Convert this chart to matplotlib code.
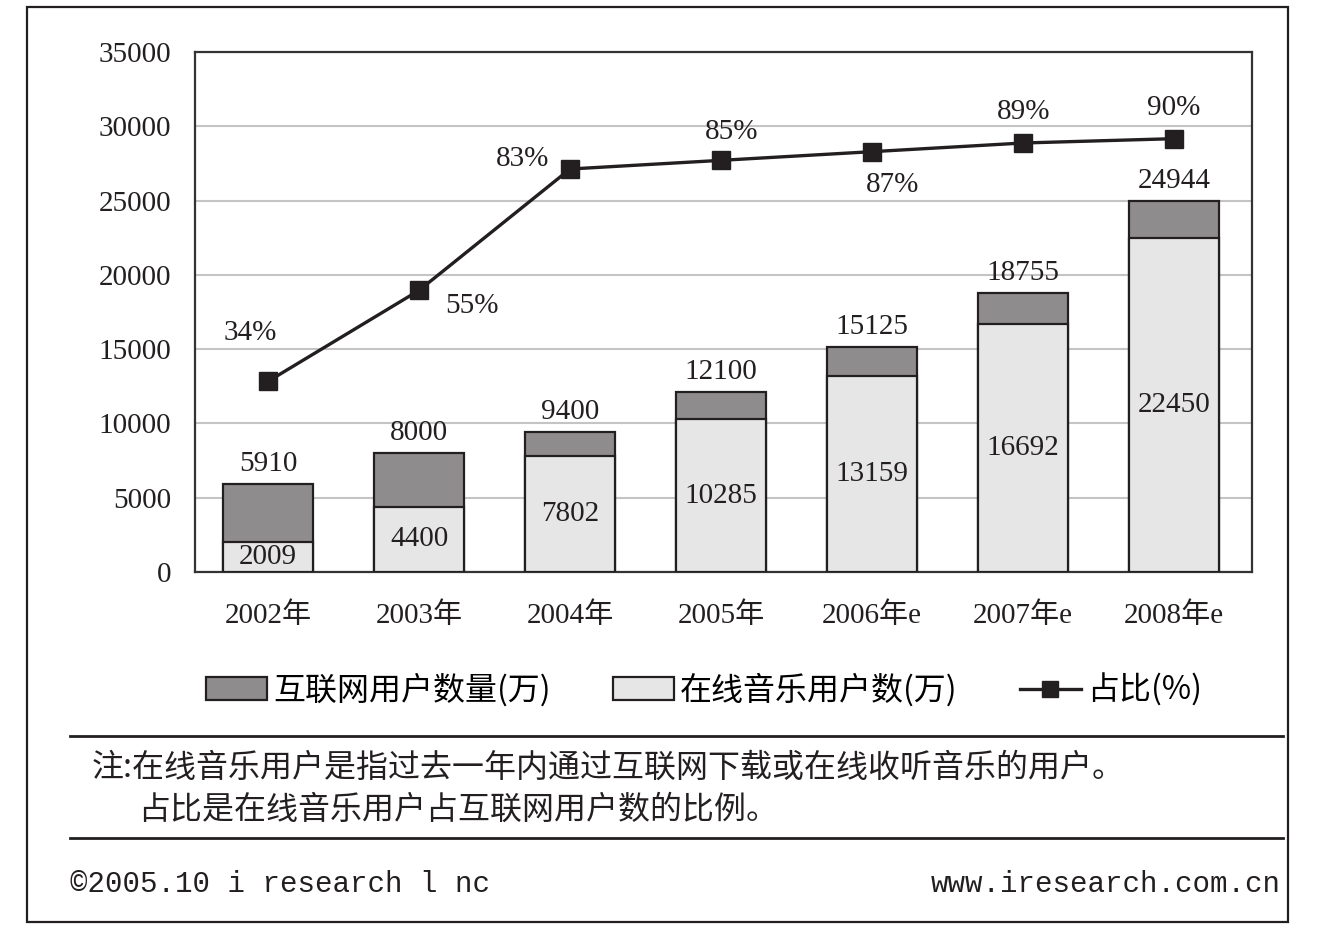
import matplotlib
matplotlib.use("Agg")
import matplotlib.pyplot as plt
from matplotlib.patches import Rectangle, Patch
from matplotlib.lines import Line2D

# --- data ---
years = ["2002年", "2003年", "2004年", "2005年", "2006年e", "2007年e", "2008年e"]
internet_users = [5910, 8000, 9400, 12100, 15125, 18755, 24944]
music_users = [2009, 4400, 7802, 10285, 13159, 16692, 22450]
share_pct = [34, 55, 83, 85, 87, 89, 90]

# label offsets (px) for the percentage labels
pct_offsets = [(-18, 48), (53, -16), (-48, 10), (11, 28), (20, -33), (1, 31), (0, 31)]

SERIF = ["Liberation Serif", "Noto Sans CJK SC"]
CJK = ["Noto Sans CJK SC", "DejaVu Sans"]
DARK = "#231f20"

plt.rcParams["font.family"] = SERIF

W, H = 1335, 942
fig = plt.figure(figsize=(W / 100, H / 100), dpi=100)
ax = fig.add_axes([195 / W, 1 - 572 / H, (1252 - 195) / W, (572 - 52) / H])

x = [i + 0.5 for i in range(len(years))]

# --- bars (overlapping, both from zero) ---
ax.bar(x, internet_users, width=0.6, color="#8e8c8d", edgecolor=DARK, linewidth=1.6, zorder=3)
ax.bar(x, music_users, width=0.6, color="#e6e6e6", edgecolor=DARK, linewidth=1.6, zorder=4)

for xi, tot, mu in zip(x, internet_users, music_users):
    ax.annotate(str(tot), (xi, tot), xytext=(0, 5), textcoords="offset points",
                ha="center", va="bottom", fontsize=21, color=DARK, zorder=6)
    ax.text(xi, mu / 2, str(mu), ha="center", va="center", fontsize=21,
            color=DARK, zorder=6)

ax.set_xlim(0.016, len(years) + 0.016)
ax.set_ylim(0, 35000)
ax.set_yticks(range(0, 35001, 5000))
ax.set_xticks(x)
ax.set_xticklabels(years)
ax.tick_params(axis="both", length=0, labelsize=21, colors=DARK)
ax.tick_params(axis="y", pad=17)
ax.tick_params(axis="x", pad=22)
ax.yaxis.grid(True, color="#c4c4c4", linewidth=1.5, zorder=0)
ax.set_axisbelow(True)
for s in ax.spines.values():
    s.set_color("#333333")
    s.set_linewidth(1.6)

# --- percentage line on hidden secondary axis ---
ax2 = ax.twinx()
ax2.set_ylim(-10, 110)
ax2.axis("off")
ax2.plot(x, share_pct, color=DARK, linewidth=2.4, marker="s", markersize=13,
         markerfacecolor=DARK, markeredgecolor=DARK, zorder=7)
for xi, p, (dx, dy) in zip(x, share_pct, pct_offsets):
    ax2.annotate(f"{p}%", (xi, p), xytext=(dx * 0.72, dy * 0.72),
                 textcoords="offset points", ha="center", va="center",
                 fontsize=21, color=DARK)

# --- legend ---
handles = [
    Patch(facecolor="#8e8c8d", edgecolor=DARK, linewidth=1.6),
    Patch(facecolor="#e6e6e6", edgecolor=DARK, linewidth=1.6),
    Line2D([0], [0], color=DARK, linewidth=2.4, marker="s", markersize=11),
]
labels = ["互联网用户数量(万)", "在线音乐用户数(万)", "占比(%)"]
fig.legend(handles, labels, loc="center", bbox_to_anchor=(704 / W, 1 - 690 / H),
           ncol=3, frameon=False, handlelength=1.9, handleheight=0.7,
           handletextpad=0.2, columnspacing=1.95, prop={"family": CJK, "size": 23})

# --- frame, rules, notes ---
fig.add_artist(Rectangle((27 / W, 1 - 922 / H), (1288 - 27) / W, (922 - 7) / H,
                         transform=fig.transFigure, fill=False, lw=1.6, ec=DARK))
for yy in (736, 838):
    fig.add_artist(Line2D([70 / W, 1283 / W], [1 - yy / H, 1 - yy / H],
                          transform=fig.transFigure, color=DARK, lw=2))

fig.text(92 / W, 1 - 768 / H, "注:在线音乐用户是指过去一年内通过互联网下载或在线收听音乐的用户。",
         family=CJK, fontsize=23, va="center", color=DARK)
fig.text(138 / W, 1 - 810 / H, "占比是在线音乐用户占互联网用户数的比例。",
         family=CJK, fontsize=23, va="center", color=DARK)
fig.text(70 / W, 1 - 884 / H, "©2005.10 i research l nc", family="Liberation Mono",
         fontsize=21, va="center", color=DARK)
fig.text(1281 / W, 1 - 884 / H, "www.iresearch.com.cn", family="Liberation Mono",
         fontsize=21, va="center", ha="right", color=DARK)

fig.savefig("out.png", dpi=100, facecolor="white")
